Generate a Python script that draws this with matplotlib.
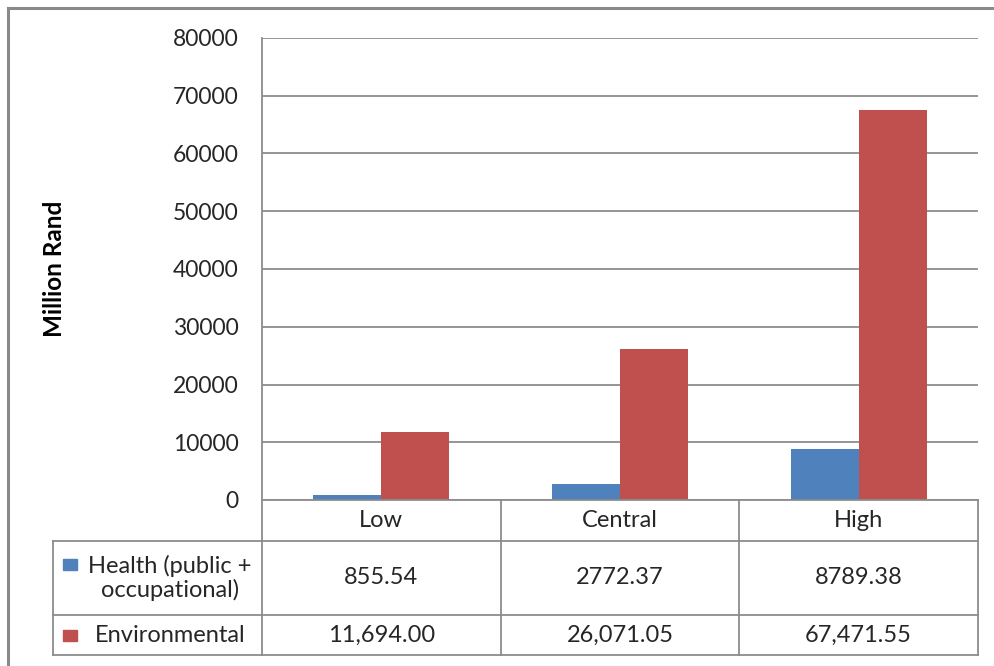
import matplotlib
matplotlib.use("Agg")
import matplotlib.pyplot as plt
from matplotlib.lines import Line2D
from matplotlib.patches import Rectangle
from matplotlib.transforms import blended_transform_factory
import numpy as np

# Scenario data (million rand)
scenarios = ['Low', 'Central', 'High']
health = [855.54, 2772.37, 8789.38]
environmental = [11694.00, 26071.05, 67471.55]
series_names = ['Health (public +\noccupational)', 'Environmental']
health_fmt = ['{:.2f}'.format(v) for v in health]
env_fmt = ['{:,.2f}'.format(v) for v in environmental]

BLUE = '#4F81BD'
RED = '#C0504D'
GRID = '#8C8C8C'
FONT = 'Lato'

W, H = 995, 666
fig = plt.figure(figsize=(W / 100, H / 100), dpi=100)
plt.rcParams['font.family'] = [FONT, 'DejaVu Sans']


def fx(x):
    return x / W


def fy(y):
    return 1 - y / H


# Plot area
left, right, top, bottom = 262, 978, 38, 500
ax = fig.add_axes([fx(left), fy(bottom), (right - left) / W, (bottom - top) / H])

x = np.arange(len(scenarios))
bw = 0.285
ax.bar(x - bw / 2, health, bw, color=BLUE, zorder=3)
ax.bar(x + bw / 2, environmental, bw, color=RED, zorder=3)

ax.set_xlim(-0.5, len(scenarios) - 0.5)
ax.set_ylim(0, 80000)
ax.set_yticks(np.arange(0, 80001, 10000))
ax.set_xticks([])
ax.yaxis.grid(True, color=GRID, linewidth=1.3, zorder=0)
ax.tick_params(axis='y', length=0, pad=17, labelsize=16.5, labelcolor='#262626')
for s in ['top', 'right', 'bottom']:
    ax.spines[s].set_visible(False)
ax.spines['left'].set_color(GRID)
ax.spines['left'].set_linewidth(1.3)
ax.set_ylabel('Million Rand', fontsize=17.5, fontweight='bold')
ax.yaxis.set_label_coords(-(left - 66) / (right - left), 0.5)

# Data table below the axis
tr = blended_transform_factory(ax.transData, fig.transFigure)
row_y = [500, 541, 615, 655]
tab_left = 53


def hline(x0, x1, y):
    fig.add_artist(Line2D([fx(x0), fx(x1)], [fy(y), fy(y)], color=GRID, lw=1.3))


def vline(xp, y0, y1):
    fig.add_artist(Line2D([fx(xp), fx(xp)], [fy(y0), fy(y1)], color=GRID, lw=1.3))


hline(left, right, row_y[0])
for yy in row_y[1:]:
    hline(tab_left, right, yy)
vline(left, row_y[0], row_y[-1])
vline(tab_left, row_y[1], row_y[-1])
for i in range(len(scenarios)):
    xb = ax.transData.transform((i + 0.5, 0))[0]
    vline(xb, row_y[0], row_y[-1])

txt = dict(fontsize=17, color='#262626', ha='center', va='center')
for i, name in enumerate(scenarios):
    fig.text(i, fy((row_y[0] + row_y[1]) / 2), name, transform=tr, **txt)
    fig.text(i, fy((row_y[1] + row_y[2]) / 2), health_fmt[i], transform=tr, **txt)
    fig.text(i, fy((row_y[2] + row_y[3]) / 2), env_fmt[i], transform=tr, **txt)

# Series labels with legend keys
for k, (name, col) in enumerate(zip(series_names, [BLUE, RED])):
    yc = (row_y[k + 1] + row_y[k + 2]) / 2
    fig.text(fx(170), fy(yc), name, fontsize=17, color='#262626',
             ha='center', va='center', linespacing=1.1)
    ky = 563.5 if k == 0 else yc
    fig.add_artist(Rectangle((fx(63), fy(ky + 6)), 14 / W, 11 / H,
                             color=col, transform=fig.transFigure))

# Chart border
fig.add_artist(Line2D([fx(8), fx(8)], [fy(8), 0], color='#8A8A8A', lw=2.2))
fig.add_artist(Line2D([fx(8), 1], [fy(8), fy(8)], color='#8A8A8A', lw=2.2))

fig.savefig('out.png', dpi=100)
